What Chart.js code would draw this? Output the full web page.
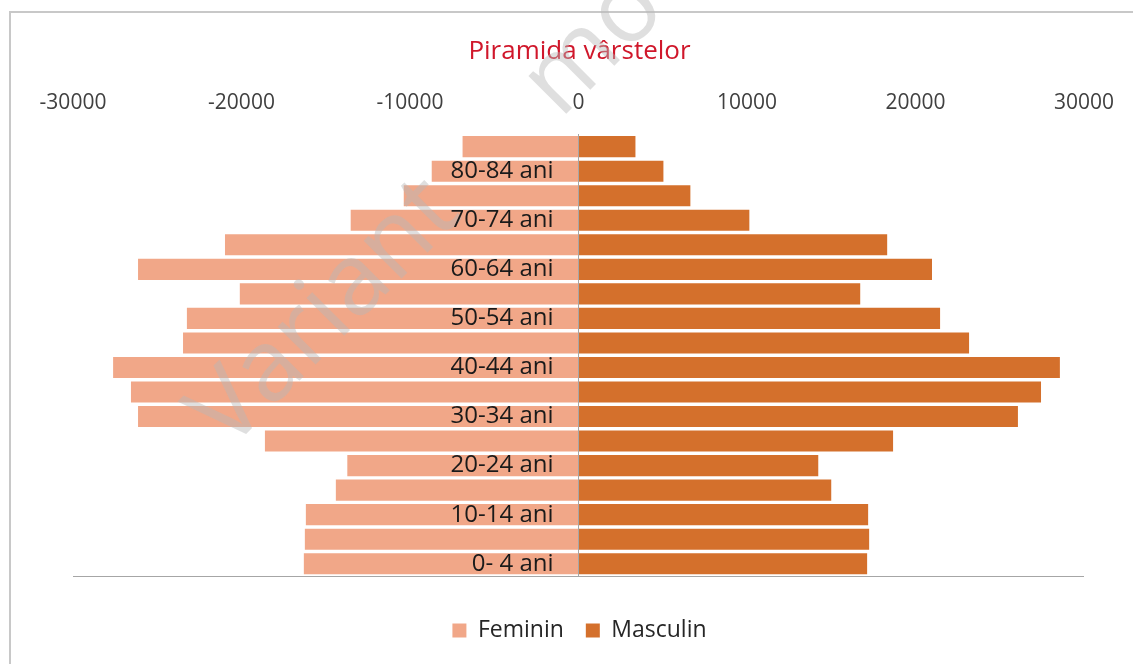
<!DOCTYPE html>
<html>
<head>
<meta charset="utf-8">
<title>Piramida vârstelor</title>
<script src="https://cdn.jsdelivr.net/npm/chart.js@4.4.1/dist/chart.umd.min.js"></script>
<style>
  html, body { margin: 0; padding: 0; background: #fff; }
  body { width: 1133px; height: 664px; position: relative; overflow: hidden; }
  #frame { position: absolute; left: 9px; top: 11px; width: 1200px; height: 700px; border: 2px solid #c8c8c8; }
  #wrap { position: absolute; left: 0; top: 0; width: 1133px; height: 664px; }
</style>
</head>
<body>
<div id="frame"></div>
<div id="wrap"><canvas id="chart"></canvas></div>
<script>
// age groups, bottom to top
const ageGroups = [
  "0- 4 ani", "5-9 ani", "10-14 ani", "15-19 ani", "20-24 ani", "25-29 ani",
  "30-34 ani", "35-39 ani", "40-44 ani", "45-49 ani", "50-54 ani", "55-59 ani",
  "60-64 ani", "65-69 ani", "70-74 ani", "75-79 ani", "80-84 ani", "85+ ani"
];
const feminin = [
  -16300, -16240, -16180, -14400, -13720, -18610,
  -26140, -26560, -27620, -23470, -23240, -20100,
  -26140, -20980, -13520, -10370, -8710, -6880
];
const masculin = [
  17130, 17250, 17190, 15000, 14230, 18670,
  26080, 27450, 28570, 23180, 21460, 16720,
  20980, 18320, 10140, 6640, 5040, 3380
];
const valueTicks = [-30000, -20000, -10000, 0, 10000, 20000, 30000];

const FONT = '"Open Sans", "DejaVu Sans", sans-serif';
Chart.defaults.font.family = FONT;
Chart.defaults.color = "#404040";

// faint diagonal watermark
const watermark = {
  id: "watermark",
  afterDatasetsDraw(chart) {
    const ctx = chart.ctx;
    ctx.save();
    ctx.translate(228, 452);
    ctx.rotate(-Math.PI / 4);
    ctx.font = "100px " + FONT;
    ctx.fillStyle = "rgba(185,185,185,0.45)";
    ctx.textBaseline = "alphabetic";
    ctx.fillText("Variant", 0, 0);
    ctx.fillText("model", 470, 0);
    ctx.restore();
  }
};

new Chart(document.getElementById("chart"), {
  type: "bar",
  data: {
    labels: ageGroups,
    datasets: [
      { label: "Feminin", data: feminin, backgroundColor: "#f1a788", barPercentage: 0.86, categoryPercentage: 1 },
      { label: "Masculin", data: masculin, backgroundColor: "#d4702c", barPercentage: 0.86, categoryPercentage: 1 }
    ]
  },
  options: {
    indexAxis: "y",
    responsive: true,
    maintainAspectRatio: false,
    animation: false,
    layout: { autoPadding: false, padding: { left: 73, right: 47, top: 0, bottom: 12 } },
    scales: {
      x: {
        type: "linear",
        position: "top",
        stacked: true,
        min: valueTicks[0],
        max: valueTicks[valueTicks.length - 1],
        afterBuildTicks: s => { s.ticks = valueTicks.map(v => ({ value: v })); },
        grid: { display: false, drawTicks: false },
        border: { display: false },
        ticks: { padding: 19, color: "#404040", font: { size: 21 }, callback: v => String(v) }
      },
      xb: {
        type: "linear",
        position: "bottom",
        min: valueTicks[0],
        max: valueTicks[valueTicks.length - 1],
        grid: { display: false, drawTicks: false },
        border: { display: true, color: "#a6a6a6", width: 1 },
        ticks: { display: false }
      },
      // category labels sit just left of the zero line
      y: {
        type: "category",
        reverse: true,
        stacked: true,
        position: { x: -1480 },
        grid: { display: false, drawTicks: false },
        border: { display: false },
        ticks: {
          z: 1,
          autoSkip: false,
          color: "#1a1a1a",
          font: { size: 24 },
          callback: (v, i) => (i % 2 === 0 ? ageGroups[i] : "")
        }
      },
      // zero line
      y0: {
        type: "category",
        position: { x: 0 },
        grid: { display: false, drawTicks: false },
        border: { display: true, color: "#a6a6a6", width: 1, z: 1 },
        ticks: { display: false }
      }
    },
    plugins: {
      title: {
        display: true,
        text: "Piramida vârstelor",
        color: "#d0172b",
        font: { size: 26, weight: "normal" },
        padding: { top: 36, bottom: 4 }
      },
      legend: {
        position: "bottom",
        title: { display: true, text: " ", font: { size: 10 }, padding: { top: 0, bottom: 9 } },
        labels: { boxWidth: 14, boxHeight: 14, padding: 22, color: "#262626", font: { size: 23 } }
      },
      tooltip: { enabled: false }
    }
  },
  plugins: [watermark]
});
</script>
</body>
</html>
